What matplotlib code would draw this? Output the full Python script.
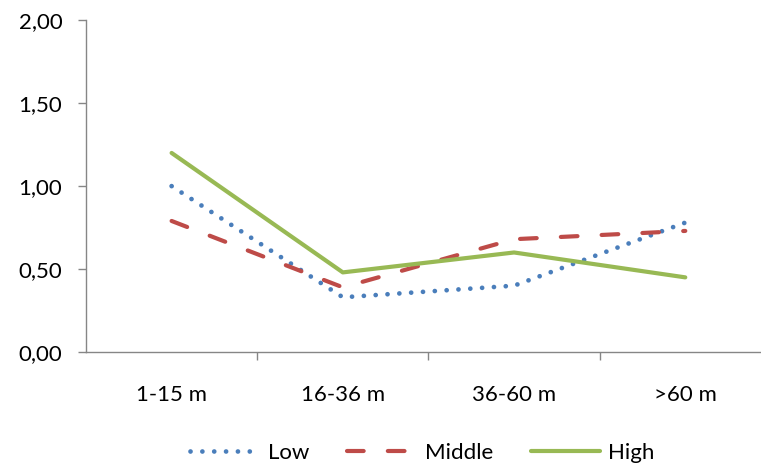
import matplotlib
matplotlib.use('Agg')
import matplotlib.pyplot as plt
from matplotlib.ticker import FuncFormatter, FixedLocator

categories = ['1-15 m', '16-36 m', '36-60 m', '>60 m']
low = [1.00, 0.33, 0.40, 0.78]
middle = [0.79, 0.39, 0.68, 0.73]
high = [1.20, 0.48, 0.60, 0.45]

plt.rcParams['font.family'] = ['Lato', 'DejaVu Sans']
fontSize = 16
axisGray = '#868686'

fig = plt.figure(figsize=(7.61, 4.70), dpi=100)
ax = fig.add_axes([0.113, 0.251, 0.9, 0.706])

x = range(len(categories))
ax.plot(x, low, color='#4A7EBB', lw=3.4, linestyle=(0, (0.01, 2.5)),
        dash_capstyle='round', label='Low')
ax.plot(x, middle, color='#BE4B48', lw=3.0, linestyle=(0, (4.0, 5.8)),
        dash_capstyle='round', label='Middle')
ax.plot(x, high, color='#98B954', lw=3.0, solid_capstyle='round', label='High')

ax.set_xlim(-0.5, len(categories) - 0.5)
ax.set_ylim(0, 2)
ax.set_yticks([0, 0.5, 1.0, 1.5, 2.0])
ax.yaxis.set_major_formatter(FuncFormatter(lambda v, p: ('%.2f' % v).replace('.', ',')))

# category boundaries carry the tick marks, labels sit at the centres
ax.xaxis.set_major_locator(FixedLocator([0.5, 1.5, 2.5]))
ax.xaxis.set_minor_locator(FixedLocator(list(x)))
ax.set_xticklabels([], minor=False)
ax.set_xticklabels(categories, minor=True)
ax.tick_params(axis='x', which='major', length=6, width=1, color=axisGray)
ax.tick_params(axis='x', which='minor', length=0, pad=24, labelsize=fontSize)
ax.tick_params(axis='y', length=6, width=1, color=axisGray, pad=11, labelsize=fontSize)

for side in ['top', 'right']:
    ax.spines[side].set_visible(False)
for side in ['left', 'bottom']:
    ax.spines[side].set_color(axisGray)
    ax.spines[side].set_linewidth(1)

fig.legend(loc='center', bbox_to_anchor=(0.555, 0.036), ncol=3, frameon=False,
           fontsize=fontSize, handlelength=3.1, handletextpad=0.4, columnspacing=1.7)

fig.savefig('out.png', dpi=100)
